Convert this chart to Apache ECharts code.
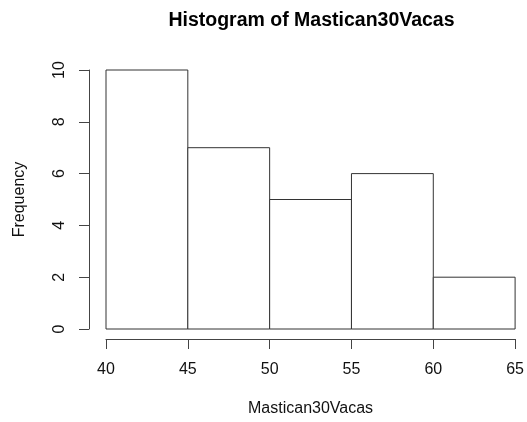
<!DOCTYPE html>
<html>
<head>
<meta charset="utf-8">
<script src="https://cdn.jsdelivr.net/npm/echarts@6/dist/echarts.min.js"></script>
<style>
html,body{margin:0;padding:0;background:#fff;}
#chart{width:527px;height:422px;}
</style>
</head>
<body>
<div id="chart"></div>
<script>
var binStarts = [40, 45, 50, 55, 60];
var binEnds = [45, 50, 55, 60, 65];
var frequencies = [10, 7, 5, 6, 2];
var xTicks = [40, 45, 50, 55, 60, 65];
var yTicks = [0, 2, 4, 6, 8, 10];
var chartTitle = 'Histogram of Mastican30Vacas';
var xName = 'Mastican30Vacas';
var yName = 'Frequency';

var data = binStarts.map(function (s, i) { return [s, binEnds[i], frequencies[i]]; });
var font = 'Liberation Sans';
var chart = echarts.init(document.getElementById('chart'), null, {renderer: 'canvas'});
chart.setOption({
  animation: false,
  backgroundColor: '#fff',
  title: {
    text: chartTitle,
    left: 311.5,
    top: 10.5,
    padding: 0,
    textAlign: 'center',
    textStyle: {fontFamily: font, fontWeight: 'bold', fontSize: 19.5, color: '#000'}
  },
  grid: {left: 106, right: 9, top: 70, bottom: 91, containLabel: false},
  xAxis: {
    type: 'value',
    min: xTicks[0], max: xTicks[xTicks.length - 1], interval: 5,
    offset: 10,
    splitLine: {show: false},
    axisLine: {show: true, onZero: false, lineStyle: {color: '#444', width: 1}},
    axisTick: {show: true, inside: false, length: 10, lineStyle: {color: '#444'}},
    axisLabel: {margin: 23, fontFamily: font, fontSize: 16, color: '#111'},
    name: xName,
    nameLocation: 'middle',
    nameGap: 62,
    nameTextStyle: {fontFamily: font, fontSize: 16, color: '#111'}
  },
  yAxis: {
    type: 'value',
    min: yTicks[0], max: yTicks[yTicks.length - 1], interval: 2,
    offset: 17,
    splitLine: {show: false},
    axisLine: {show: true, onZero: false, lineStyle: {color: '#444', width: 1}},
    axisTick: {show: true, inside: false, length: 10, lineStyle: {color: '#444'}},
    axisLabel: {margin: 21, rotate: 90, fontFamily: font, fontSize: 16, color: '#111'},
    name: yName,
    nameLocation: 'middle',
    nameGap: 61,
    nameTextStyle: {fontFamily: font, fontSize: 16, color: '#111'}
  },
  series: [{
    type: 'custom',
    data: data,
    encode: {x: [0, 1], y: 2},
    renderItem: function (params, api) {
      var p0 = api.coord([api.value(0), 0]);
      var p1 = api.coord([api.value(1), api.value(2)]);
      return {
        type: 'rect',
        shape: {x: p0[0], y: p1[1], width: p1[0] - p0[0], height: p0[1] - p1[1]},
        style: {fill: '#fff', stroke: '#333', lineWidth: 1}
      };
    }
  }]
});
</script>
</body>
</html>
